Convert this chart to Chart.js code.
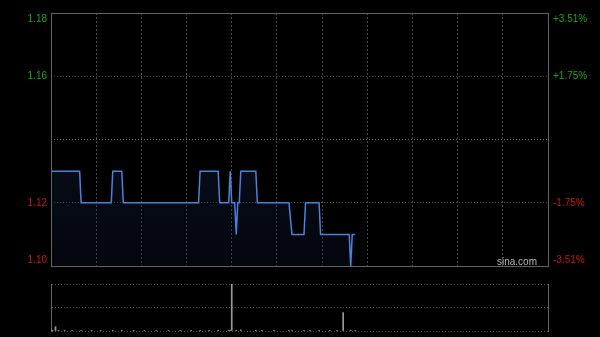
<!DOCTYPE html>
<html>
<head>
<meta charset="utf-8">
<script src="https://cdn.jsdelivr.net/npm/chart.js@4"></script>
<style>
  html, body { margin: 0; padding: 0; background: #000; }
  #wrap { position: relative; width: 600px; height: 337px; overflow: hidden; }
  #priceChart { position: absolute; left: 0; top: -4px; }
  #volChart { position: absolute; left: 0; top: 275px; }
</style>
</head>
<body>
<div id="wrap">
  <canvas id="priceChart" width="600" height="287"></canvas>
  <canvas id="volChart" width="600" height="62"></canvas>
</div>
<script>
// previous close and price axis
const prevClose = 1.14;
const priceMin = 1.10;
const priceMax = 1.18;

// price line vertices (minute of session, price)
const priceMinutes = [0, 19, 20, 40, 41, 47, 48, 98, 99, 111, 112, 118, 119, 120, 122, 123, 124, 125, 126, 136, 137, 158, 160, 168, 169, 178, 179, 198, 199, 200, 202];
const priceValues  = [1.13, 1.13, 1.12, 1.12, 1.13, 1.13, 1.12, 1.12, 1.13, 1.13, 1.12, 1.12, 1.13, 1.12, 1.12, 1.11, 1.12, 1.12, 1.13, 1.13, 1.12, 1.12, 1.11, 1.11, 1.12, 1.12, 1.11, 1.11, 1.10, 1.11, 1.11];

// volume bars (minute, shares)
const volMinutes = [0, 1, 3, 5, 9, 14, 20, 27, 33, 41, 47, 55, 62, 70, 78, 86, 93, 99, 105, 111, 118, 119, 120, 123, 126, 136, 140, 148, 158, 160, 168, 172, 178, 185, 190, 194, 199, 202];
const volValues  = [6000, 4000, 22000, 2000, 4000, 2000, 4000, 2000, 2000, 4000, 4000, 2000, 2000, 4000, 2000, 2000, 2000, 4000, 2000, 4000, 4000, 4000, 240000, 4000, 6000, 4000, 2000, 2000, 4000, 2000, 4000, 2000, 4000, 2000, 2000, 94000, 4000, 2000];

const sessionMinutes = 330;
const volMax = 240000;

const green = '#16a516';
const red = '#cc1414';
const gridColor = '#4a4a4a';
const frameColor = '#626262';
const font = { family: '"Liberation Sans", Arial, sans-serif', size: 10 };

const isPrev = v => Math.abs(v - prevClose) < 0.0001;

// keep the end labels inside the frame: top one drops, bottom one rises
const nudge = (v, text) => {
  if (Math.abs(v - priceMax) < 0.0001) return ['', text];
  if (Math.abs(v - priceMin) < 0.0001) return [text, ''];
  return text;
};

// solid frame round the plot + watermark
const priceFrame = {
  id: 'priceFrame',
  afterDraw(chart) {
    const { ctx, chartArea: a } = chart;
    ctx.save();
    ctx.strokeStyle = frameColor;
    ctx.lineWidth = 1;
    ctx.strokeRect(Math.round(a.left) + 0.5, Math.round(a.top) + 0.5,
      Math.round(a.right - a.left), Math.round(a.bottom - a.top));
    ctx.font = '10px "Liberation Sans", Arial, sans-serif';
    ctx.fillStyle = '#b4b4b4';
    ctx.textAlign = 'right';
    ctx.fillText('sina.com', a.right - 11, a.bottom - 1);
    ctx.restore();
  }
};

const volFrame = {
  id: 'volFrame',
  afterDraw(chart) {
    const { ctx, chartArea: a } = chart;
    ctx.save();
    ctx.strokeStyle = frameColor;
    ctx.lineWidth = 1;
    ctx.beginPath();
    ctx.moveTo(Math.round(a.right) + 0.5, Math.round(a.top));
    ctx.lineTo(Math.round(a.right) + 0.5, Math.round(a.bottom) + 1);
    ctx.stroke();
    ctx.restore();
  }
};

new Chart(document.getElementById('priceChart'), {
  type: 'line',
  data: {
    datasets: [{
      data: priceMinutes.map((m, i) => ({ x: m, y: priceValues[i] })),
      borderColor: '#4b82d6',
      borderWidth: 1.5,
      pointRadius: 0,
      tension: 0,
      fill: 'start',
      backgroundColor: ctx => {
        const a = ctx.chart.chartArea;
        if (!a) return 'rgba(20,35,70,0.4)';
        const g = ctx.chart.ctx.createLinearGradient(0, a.top, 0, a.bottom);
        g.addColorStop(0, 'rgba(30,55,110,0.45)');
        g.addColorStop(1, 'rgba(15,25,50,0.25)');
        return g;
      }
    }]
  },
  options: {
    responsive: false,
    animation: false,
    layout: { padding: { top: 13, bottom: 9, left: 0, right: 0 } },
    plugins: { legend: { display: false }, tooltip: { enabled: false } },
    scales: {
      x: {
        type: 'linear',
        min: 0,
        max: sessionMinutes,
        ticks: { display: false, stepSize: 30 },
        grid: { color: gridColor, drawTicks: false },
        border: { display: false, dash: [2, 2] },
        afterFit: s => { s.height = 0; }
      },
      y: {
        position: 'left',
        min: priceMin,
        max: priceMax,
        ticks: {
          stepSize: 0.02,
          padding: 4,
          font: font,
          color: ctx => ctx.tick.value > prevClose ? green : red,
          callback: v => isPrev(v) ? '' : nudge(v, v.toFixed(2))
        },
        grid: {
          drawTicks: false,
          color: ctx => ctx.tick && isPrev(ctx.tick.value) ? '#6a6a6a' : gridColor
        },
        border: { display: false, dash: [1, 2] },
        afterFit: s => { s.width = 51; }
      },
      yPct: {
        position: 'right',
        min: priceMin,
        max: priceMax,
        ticks: {
          stepSize: 0.02,
          padding: 5,
          font: font,
          color: ctx => ctx.tick.value > prevClose ? green : red,
          callback: v => {
            if (isPrev(v)) return '';
            const p = (v / prevClose - 1) * 100;
            return nudge(v, (p > 0 ? '+' : '') + p.toFixed(2) + '%');
          }
        },
        grid: { display: false, drawTicks: false },
        border: { display: false },
        afterFit: s => { s.width = 52; }
      }
    }
  },
  plugins: [priceFrame]
});

new Chart(document.getElementById('volChart'), {
  type: 'bar',
  data: {
    datasets: [{
      data: volMinutes.map((m, i) => ({ x: m, y: volValues[i] })),
      backgroundColor: '#9a9a9a',
      barThickness: 1
    }]
  },
  options: {
    responsive: false,
    animation: false,
    layout: { padding: { top: 9, bottom: 6, left: 0, right: 52 } },
    plugins: { legend: { display: false }, tooltip: { enabled: false } },
    scales: {
      x: {
        type: 'linear',
        min: 0,
        max: sessionMinutes,
        offset: false,
        ticks: { display: false },
        grid: { display: false, drawTicks: false },
        border: { display: false },
        afterFit: s => { s.height = 0; }
      },
      y: {
        min: 0,
        max: volMax,
        ticks: { display: false, stepSize: volMax / 2 },
        grid: { color: gridColor, drawTicks: false },
        border: { display: true, color: frameColor, dash: [1, 2] },
        afterFit: s => { s.width = 51; }
      }
    }
  },
  plugins: [volFrame]
});
</script>
</body>
</html>
